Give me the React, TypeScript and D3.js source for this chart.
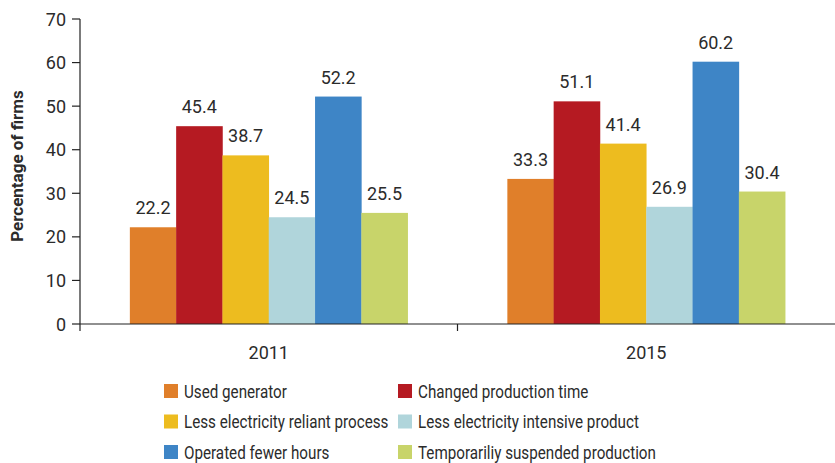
import React from "react";
import * as d3 from "d3";

const years = ["2011", "2015"];
const seriesNames = [
  "Used generator",
  "Changed production time",
  "Less electricity reliant process",
  "Less electricity intensive product",
  "Operated fewer hours",
  "Temporariliy suspended production",
];
const seriesColors = ["#E07F2A", "#B51A22", "#EDBC1F", "#B0D5DB", "#3E85C6", "#C8D46A"];
const values2011 = [22.2, 45.4, 38.7, 24.5, 52.2, 25.5];
const values2015 = [33.3, 51.1, 41.4, 26.9, 60.2, 30.4];
const yTicks = [0, 10, 20, 30, 40, 50, 60, 70];

const W = 835;
const H = 463;
const FONT = "Roboto, 'Open Sans', sans-serif";
const TXT = "#2b2b2b";

export default function App() {
  const data = [values2011, values2015];
  const left = 80, right = 835, top = 19, bottom = 324;
  const y = d3.scaleLinear().domain([0, 70]).range([bottom, top]);
  const x0 = d3.scaleBand().domain(years).range([left, right]).paddingInner(0).paddingOuter(0);
  const bw = 46.3;
  const groupW = bw * seriesNames.length;
  const x1 = d3.scaleBand().domain(seriesNames).range([0, groupW]).padding(0);

  return (
    <svg width={W} height={H} style={{ position: "absolute", left: 0, top: 0, background: "#fff" }} fontFamily={FONT}>
      {/* bars */}
      {years.map((yr, gi) => {
        const gx = (x0(yr) as number) + x0.bandwidth() / 2 - groupW / 2;
        return (
          <g key={yr} transform={`translate(${gx},0)`}>
            {seriesNames.map((s, si) => {
              const v = data[gi][si];
              const bx = x1(s) as number;
              return (
                <g key={s}>
                  <rect x={bx} y={y(v)} width={x1.bandwidth() + 0.3} height={bottom - y(v)} fill={seriesColors[si]} />
                  <text x={bx + x1.bandwidth() / 2} y={y(v) - 13} textAnchor="middle" fontSize={18} fill={TXT}>
                    {v.toFixed(1)}
                  </text>
                </g>
              );
            })}
          </g>
        );
      })}
      {/* y axis */}
      <line x1={left} x2={left} y1={top} y2={331} stroke="#222" strokeWidth={1.2} />
      {yTicks.map((t) => (
        <g key={t}>
          <line x1={left - 8} x2={left} y1={y(t)} y2={y(t)} stroke="#222" strokeWidth={1.2} />
          <text x={left - 14} y={y(t) + 6.5} textAnchor="end" fontSize={18} fill={TXT}>
            {t}
          </text>
        </g>
      ))}
      {/* x axis */}
      <line x1={left} x2={right} y1={bottom} y2={bottom} stroke="#222" strokeWidth={1.2} />
      {years.map((yr, i) =>
        i > 0 ? (
          <line key={"t" + yr} x1={x0(yr) as number} x2={x0(yr) as number} y1={bottom} y2={bottom + 7} stroke="#222" strokeWidth={1.2} />
        ) : null
      )}
      {years.map((yr) => (
        <text key={yr} x={(x0(yr) as number) + x0.bandwidth() / 2} y={359} textAnchor="middle" fontSize={18} fill={TXT}>
          {yr}
        </text>
      ))}
      {/* y title */}
      <text transform={`translate(22.5,${166}) rotate(-90)`} textAnchor="middle" fontSize={17} fontWeight="bold" fill={TXT}>
        Percentage of firms
      </text>
      {/* legend */}
      {seriesNames.map((s, i) => {
        const col = i % 2;
        const row = Math.floor(i / 2);
        const lx = col === 0 ? 164 : 398;
        const ly = 391 + row * 30.5;
        return (
          <g key={s}>
            <rect x={lx} y={ly - 7} width={14} height={14} fill={seriesColors[i]} />
            <text transform={`translate(${lx + 20},${ly + 6.8}) scale(0.8,1)`} fontSize={19} fill={TXT}>
              {s}
            </text>
          </g>
        );
      })}
    </svg>
  );
}
